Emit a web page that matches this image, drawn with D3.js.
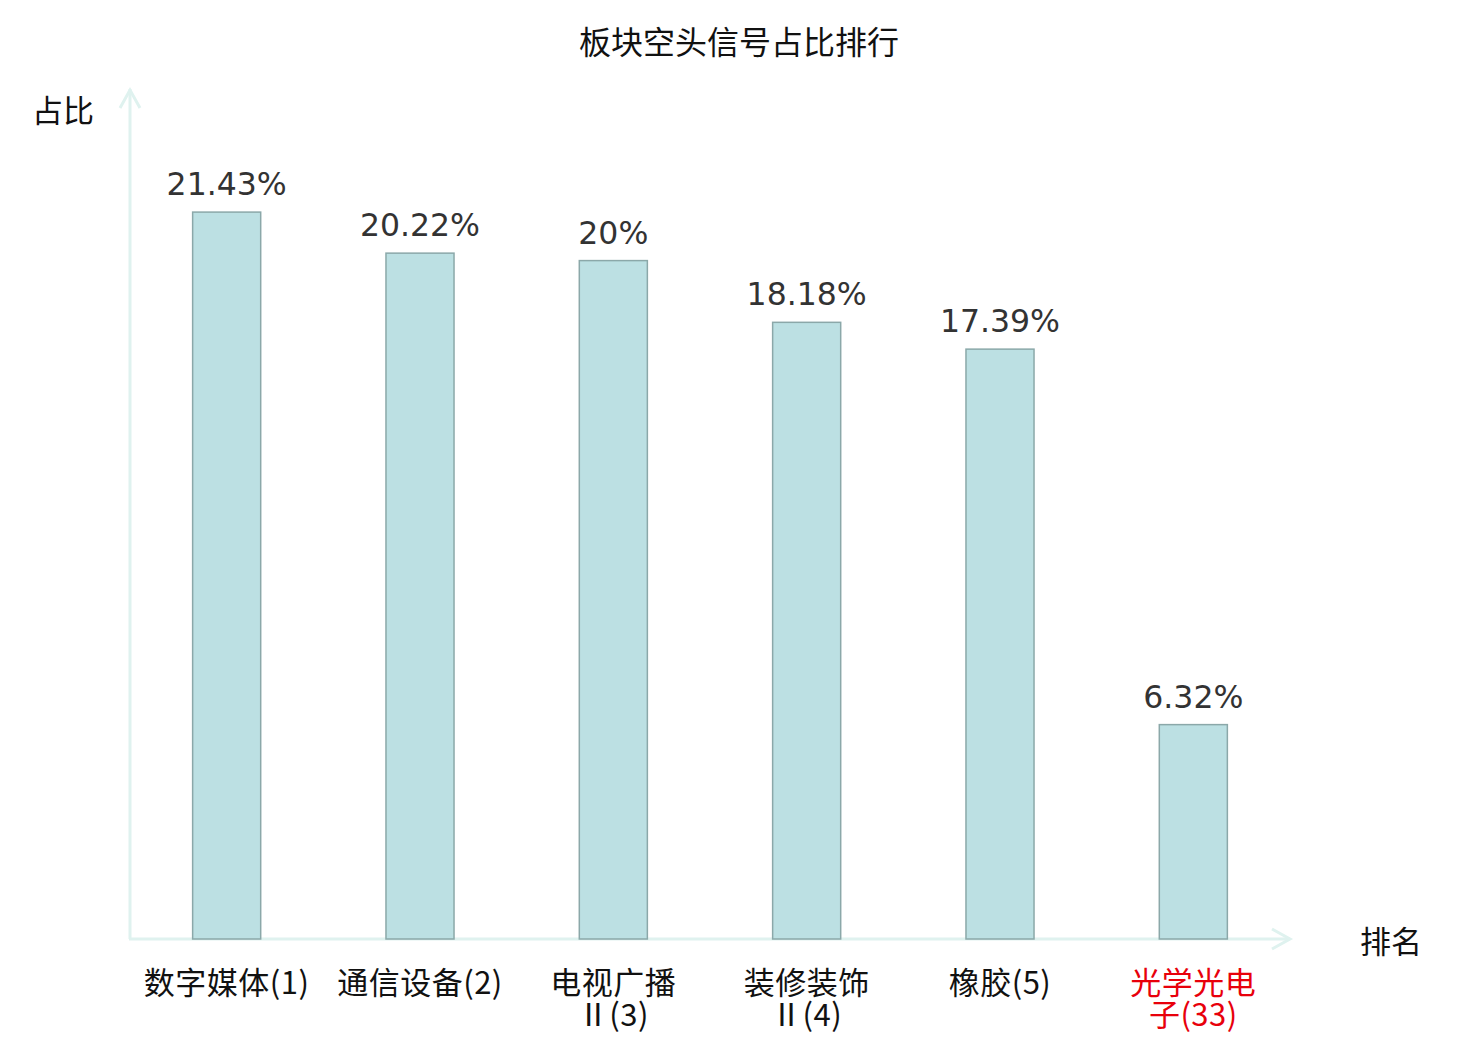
<!DOCTYPE html>
<html>
<head>
<meta charset="utf-8">
<script src="https://cdn.jsdelivr.net/npm/d3@7"></script>
<style>
  body { margin: 0; background: #fff; }
  svg { display: block; }
</style>
</head>
<body>
<div id="chart"></div>
<script>
// chart data
var title = '板块空头信号占比排行';
var categories = ['数字媒体(1)', '通信设备(2)', '电视广播\nⅡ(3)', '装修装饰\nⅡ(4)', '橡胶(5)', '光学光电\n子(33)'];
var values = [21.43, 20.22, 20, 18.18, 17.39, 6.32];
var highlight = [false, false, false, false, false, true];
var yName = '占比';
var xName = '排名';

var width = 1480, height = 1040;
var x0 = 130, x1 = 1290, yBase = 939, yTop = 91;
var axisColor = '#dff2ef';
var cjk = '"Noto Sans CJK SC", "DejaVu Sans", sans-serif';

var svg = d3.select('#chart').append('svg')
    .attr('width', width)
    .attr('height', height);

var x = d3.scaleBand()
    .domain(categories)
    .range([x0, x1])
    .paddingInner(0)
    .paddingOuter(0);

var y = d3.scaleLinear()
    .domain([0, 25])
    .range([yBase, yTop]);

var barW = x.bandwidth() * 0.352;

// title
svg.append('text')
    .attr('x', 739)
    .attr('y', 54)
    .attr('text-anchor', 'middle')
    .style('font-family', cjk)
    .style('font-size', '32px')
    .style('fill', '#111')
    .text(title);

// axes
svg.append('line')
    .attr('x1', x0).attr('y1', yBase)
    .attr('x2', x0).attr('y2', 89)
    .style('stroke', axisColor)
    .style('stroke-width', 3);
svg.append('path')
    .attr('d', 'M' + (x0 - 10) + ',' + 108 + 'L' + x0 + ',' + 90 + 'L' + (x0 + 10) + ',' + 108)
    .style('fill', 'none')
    .style('stroke', axisColor)
    .style('stroke-width', 3);

svg.append('line')
    .attr('x1', x0 - 1).attr('y1', yBase)
    .attr('x2', x1).attr('y2', yBase)
    .style('stroke', axisColor)
    .style('stroke-width', 3);
svg.append('path')
    .attr('d', 'M' + (x1 - 18) + ',' + (yBase - 10) + 'L' + x1 + ',' + yBase + 'L' + (x1 - 18) + ',' + (yBase + 10))
    .style('fill', 'none')
    .style('stroke', axisColor)
    .style('stroke-width', 3);

// axis names
svg.append('text')
    .attr('x', 63)
    .attr('y', 122)
    .attr('text-anchor', 'middle')
    .style('font-family', cjk)
    .style('font-size', '31px')
    .style('fill', '#111')
    .text(yName);
svg.append('text')
    .attr('x', 1391)
    .attr('y', 953)
    .attr('text-anchor', 'middle')
    .style('font-family', cjk)
    .style('font-size', '31px')
    .style('fill', '#111')
    .text(xName);

// bars
svg.selectAll('rect.bar')
    .data(values)
    .enter().append('rect')
    .attr('class', 'bar')
    .attr('x', function(d, i) { return x(categories[i]) + x.bandwidth() / 2 - barW / 2; })
    .attr('y', function(d) { return y(d); })
    .attr('width', barW)
    .attr('height', function(d) { return yBase - y(d); })
    .style('fill', '#bce0e3')
    .style('stroke', '#8ba8a9')
    .style('stroke-width', 1.5);

// value labels
svg.selectAll('text.value')
    .data(values)
    .enter().append('text')
    .attr('class', 'value')
    .attr('x', function(d, i) { return x(categories[i]) + x.bandwidth() / 2; })
    .attr('y', function(d) { return y(d) - 17; })
    .attr('text-anchor', 'middle')
    .style('font-family', '"DejaVu Sans", sans-serif')
    .style('font-size', '31.5px')
    .style('fill', '#333')
    .text(function(d) { return d + '%'; });

// category labels, one text per line
categories.forEach(function(d, i) {
    var cx = x(d) + x.bandwidth() / 2;
    d.split('\n').forEach(function(line, j) {
        svg.append('text')
            .attr('class', 'cat')
            .attr('x', cx)
            .attr('y', 994 + j * 32)
            .attr('text-anchor', 'middle')
            .style('font-family', cjk)
            .style('font-size', '31px')
            .style('letter-spacing', '0.5px')
            .style('fill', highlight[i] ? '#e8000b' : '#111')
            .text(line);
    });
});
</script>
</body>
</html>
